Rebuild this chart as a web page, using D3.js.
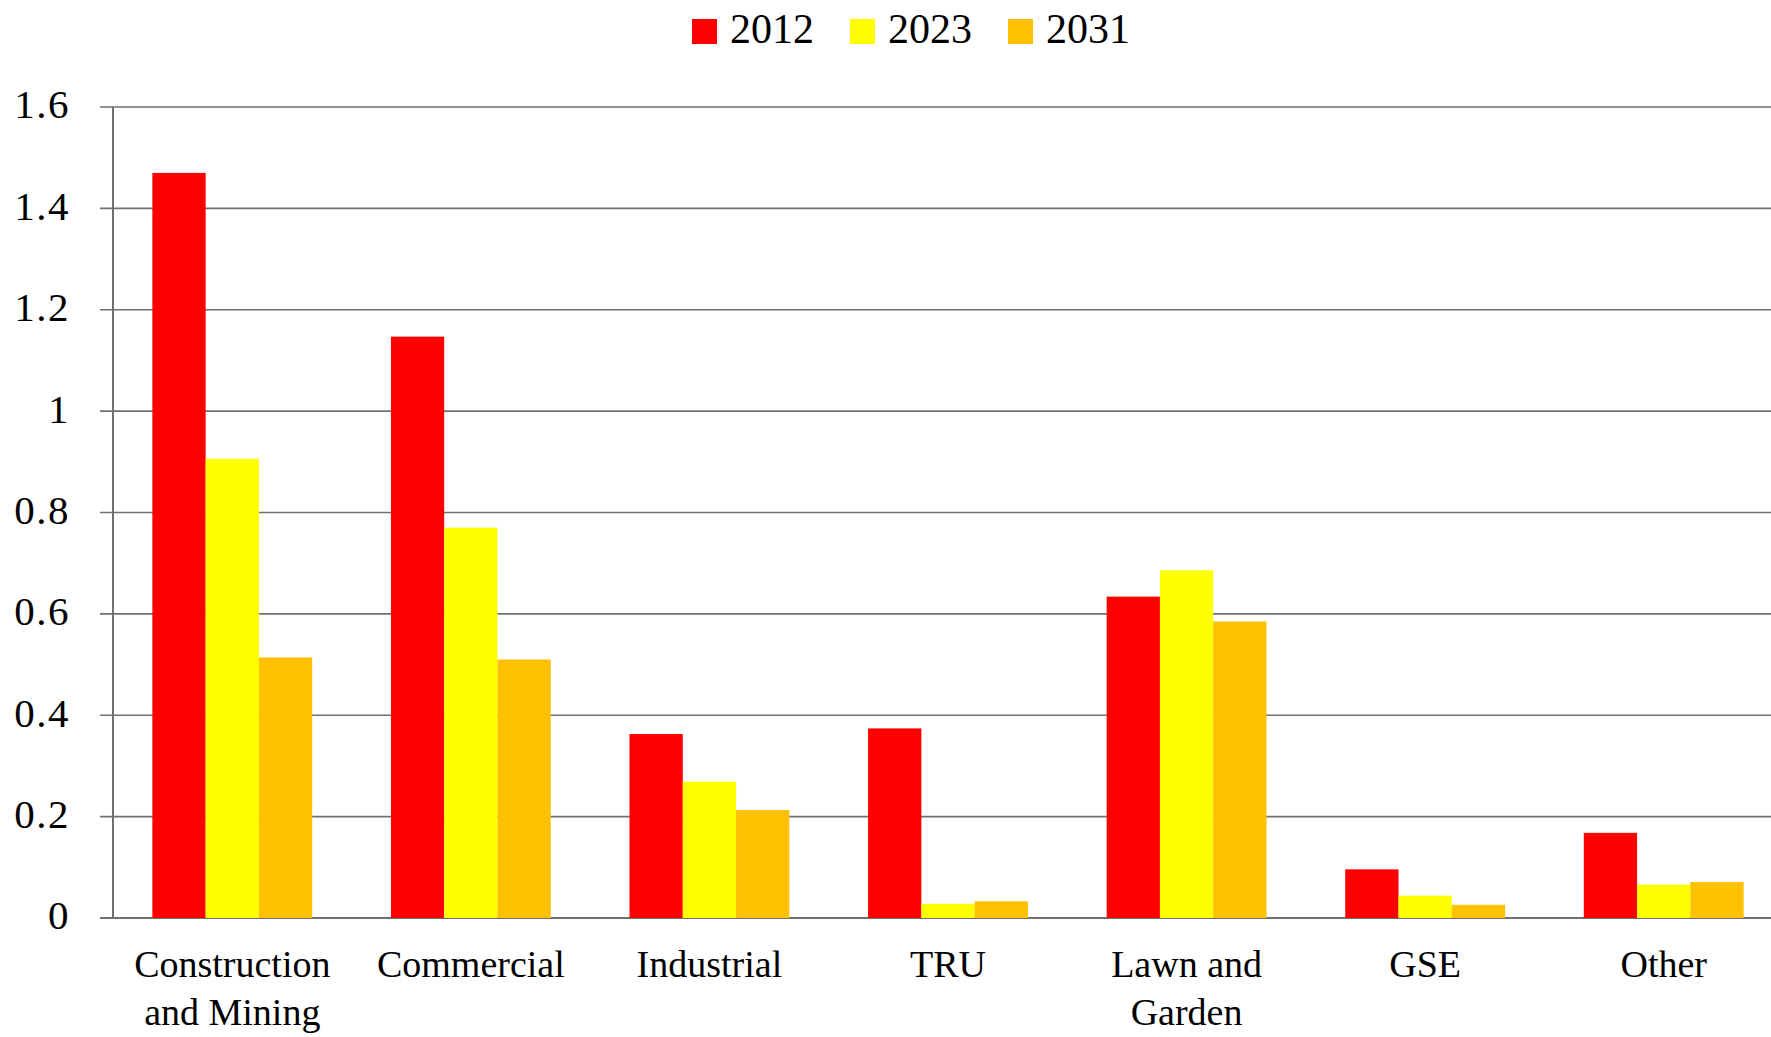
<!DOCTYPE html>
<html lang="en">
<head>
    <meta charset="UTF-8">
    <title>Emissions by equipment category</title>
    <script src="https://d3js.org/d3.v7.min.js"></script>
    <style>
        body { margin: 0; background: #fff; }
        svg { display: block; }
        text { font-family: "Liberation Serif", "DejaVu Serif", serif; fill: #000; }
    </style>
</head>
<body>
    <script>
        const width = 1771;
        const height = 1037;

        // data
        const categories = [
            ["Construction", "and Mining"],
            ["Commercial"],
            ["Industrial"],
            ["TRU"],
            ["Lawn and", "Garden"],
            ["GSE"],
            ["Other"]
        ];
        const years = ["2012", "2023", "2031"];
        const values2012 = [1.47, 1.147, 0.363, 0.374, 0.634, 0.096, 0.168];
        const values2023 = [0.906, 0.770, 0.269, 0.028, 0.686, 0.044, 0.066];
        const values2031 = [0.514, 0.510, 0.213, 0.033, 0.585, 0.026, 0.071];
        const yTicks = [0, 0.2, 0.4, 0.6, 0.8, 1, 1.2, 1.4, 1.6];
        const colors = ["#ff0000", "#ffff00", "#ffc000"];

        const series = [values2012, values2023, values2031];
        const catNames = categories.map(c => c.join(" "));

        const plot = { left: 113, right: 1783, top: 107, bottom: 918 };

        const svg = d3.select("body")
            .append("svg")
            .attr("width", width)
            .attr("height", height);

        const x = d3.scaleBand()
            .domain(catNames)
            .range([plot.left, plot.right])
            .paddingInner(0.33)
            .paddingOuter(0.165);

        const x1 = d3.scaleBand()
            .domain(years)
            .range([0, x.bandwidth()]);

        const y = d3.scaleLinear()
            .domain([0, 1.6])
            .range([plot.bottom, plot.top]);

        // gridlines + y ticks
        const grid = svg.append("g");
        grid.selectAll("line")
            .data(yTicks)
            .enter().append("line")
            .attr("x1", plot.left - 13)
            .attr("x2", plot.right)
            .attr("y1", d => y(d))
            .attr("y2", d => y(d))
            .attr("stroke", "#707070")
            .attr("stroke-width", d => d === 0 ? 2.2 : 1.6);

        grid.selectAll("text")
            .data(yTicks)
            .enter().append("text")
            .attr("x", 70)
            .attr("y", d => y(d))
            .attr("dy", "0.28em")
            .attr("text-anchor", "end")
            .attr("font-size", 41)
            .attr("letter-spacing", 1.5)
            .text(d => d);

        // bars
        const groups = svg.append("g")
            .selectAll("g")
            .data(catNames)
            .enter().append("g")
            .attr("transform", d => `translate(${x(d)},0)`);

        groups.selectAll("rect")
            .data((d, i) => years.map((yr, j) => ({ yr, v: series[j][i], c: colors[j] })))
            .enter().append("rect")
            .attr("x", d => x1(d.yr))
            .attr("width", x1.bandwidth())
            .attr("y", d => y(d.v))
            .attr("height", d => y(0) - y(d.v))
            .attr("fill", d => d.c);

        // y axis line
        svg.append("line")
            .attr("x1", plot.left)
            .attr("x2", plot.left)
            .attr("y1", plot.top)
            .attr("y2", plot.bottom)
            .attr("stroke", "#707070")
            .attr("stroke-width", 2);

        // category labels
        const labels = svg.append("g")
            .selectAll("text")
            .data(categories)
            .enter().append("text")
            .attr("text-anchor", "middle")
            .attr("font-size", 38)
            .attr("transform", (d, i) => `translate(${x(catNames[i]) + x.bandwidth() / 2},977)`);

        labels.selectAll("tspan")
            .data(d => d)
            .enter().append("tspan")
            .attr("x", 0)
            .attr("y", (d, i) => i * 48)
            .text(d => d);

        // legend
        const legend = svg.append("g")
            .selectAll("g")
            .data(years)
            .enter().append("g")
            .attr("transform", (d, i) => `translate(${692 + i * 158},19)`);

        legend.append("rect")
            .attr("width", 25)
            .attr("height", 25)
            .attr("fill", (d, i) => colors[i]);

        legend.append("text")
            .attr("x", 38)
            .attr("y", 24)
            .attr("font-size", 42)
            .text(d => d);
    </script>
</body>
</html>
